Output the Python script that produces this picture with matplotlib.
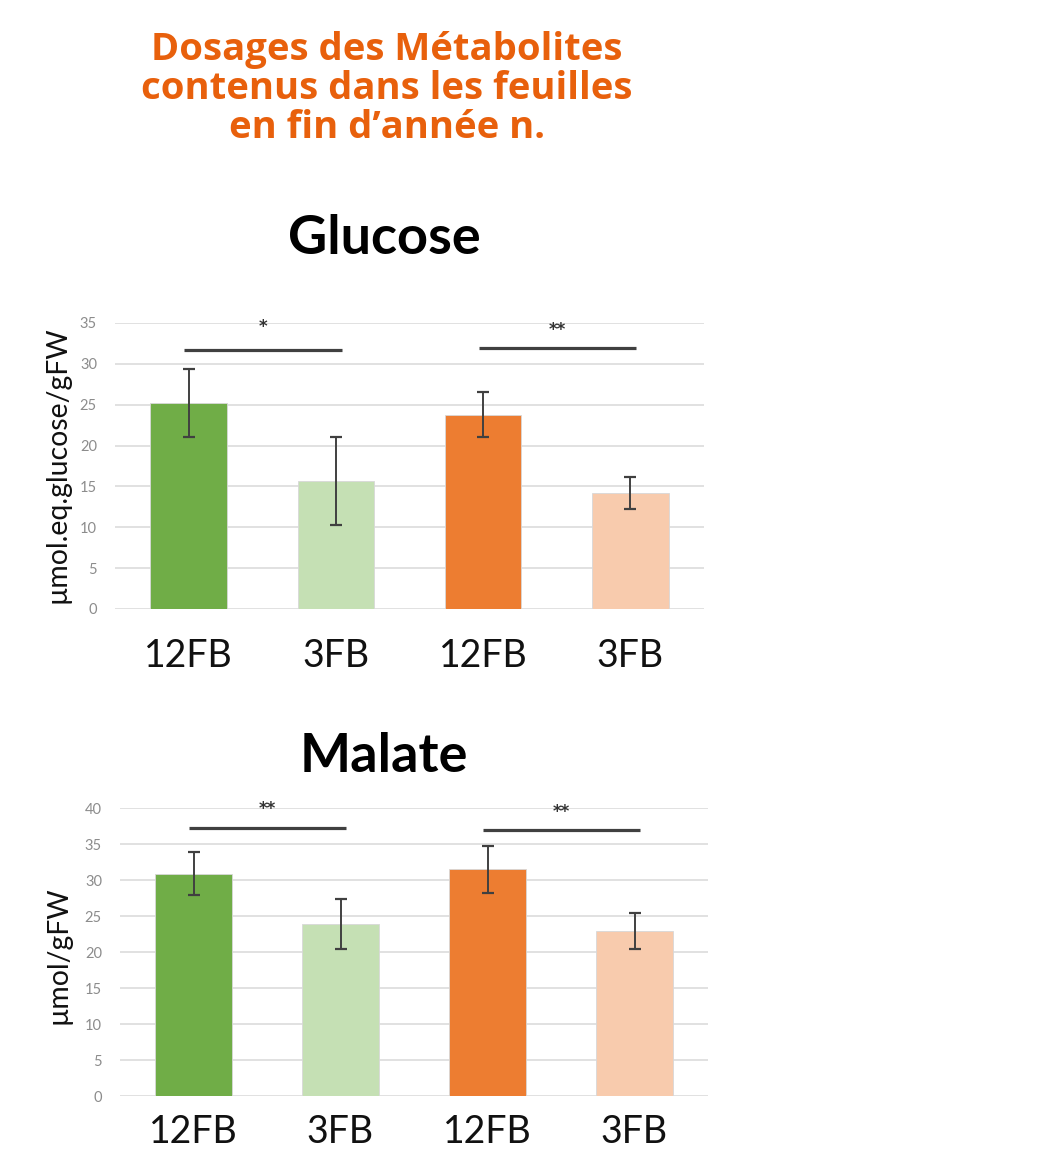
import matplotlib
matplotlib.use("Agg")
import matplotlib.pyplot as plt
import matplotlib.transforms as mtransforms

# ---------------- data ----------------
categories = ["12FB", "3FB", "12FB", "3FB"]
bar_colors = ["#70AD47", "#C5E0B4", "#ED7D31", "#F8CBAD"]

glucose_mean = [25.2, 15.7, 23.8, 14.2]
glucose_err = [4.2, 5.4, 2.7, 2.0]
glucose_ticks = [0, 5, 10, 15, 20, 25, 30, 35]
glucose_sig_pairs = [(0, 1), (2, 3)]
glucose_sig_labels = ["*", "**"]
glucose_sig_line_y = [31.7, 32.0]
glucose_sig_text_y = [34.5, 34.1]

malate_mean = [30.9, 23.9, 31.5, 22.9]
malate_err = [3.0, 3.45, 3.25, 2.55]
malate_ticks = [0, 5, 10, 15, 20, 25, 30, 35, 40]
malate_sig_pairs = [(0, 1), (2, 3)]
malate_sig_labels = ["**", "**"]
malate_sig_line_y = [37.2, 36.9]
malate_sig_text_y = [39.9, 39.4]

header = "Dosages des Métabolites\ncontenus dans les feuilles\nen fin d\u2019année n."

# ---------------- figure ----------------
W, H = 1042, 1151
fig = plt.figure(figsize=(W / 100, H / 100), dpi=100)
fig.patch.set_facecolor("white")

def fx(px):
    return px / W

def fy(py):
    return 1 - py / H

def draw_panel(rect, means, errs, ticks, pairs, labels, line_y, text_y, xpad):
    ax = fig.add_axes(rect)
    x = list(range(len(categories)))
    ax.bar(x, means, width=0.52, color=bar_colors, edgecolor="#D8D8D8",
           linewidth=0.6, zorder=3)
    ax.errorbar(x, means, yerr=errs, fmt="none", ecolor="#404040",
                elinewidth=1.4, capsize=4.5, capthick=1.6, zorder=4)
    for (i, j), lab, ly, ty in zip(pairs, labels, line_y, text_y):
        ax.plot([i - 0.03, j + 0.04], [ly, ly], color="#404040", lw=2.3,
                solid_capstyle="butt", zorder=4, clip_on=False)
        ax.text((i + j) / 2 + 0.005, ty, lab, ha="center", va="center",
                fontsize=12, fontweight="bold", color="#333333",
                family="DejaVu Sans", zorder=5)
    ax.set_xlim(-0.5, 3.5)
    ax.set_ylim(ticks[0], ticks[-1])
    ax.set_yticks(ticks)
    ax.set_yticklabels([str(t) for t in ticks], fontsize=10.5, color="#8C8C8C",
                       family="Lato")
    ax.set_xticks(x)
    ax.set_xticklabels(categories, fontsize=27, color="#111111", family="Lato")
    offset = mtransforms.ScaledTranslation(-7 / 100, 0, fig.dpi_scale_trans)
    for lbl in ax.get_xticklabels():
        lbl.set_transform(lbl.get_transform() + offset)
    ax.tick_params(axis="both", length=0)
    ax.tick_params(axis="y", pad=13)
    ax.tick_params(axis="x", pad=xpad)
    ax.grid(axis="y", color="#D9D9D9", linewidth=1.1, zorder=0)
    ax.set_axisbelow(True)
    for s in ax.spines.values():
        s.set_visible(False)
    return ax

# Glucose panel
draw_panel([fx(115), fy(609), fx(704) - fx(115), fy(323) - fy(609)],
           glucose_mean, glucose_err, glucose_ticks, glucose_sig_pairs,
           glucose_sig_labels, glucose_sig_line_y, glucose_sig_text_y, 21)

# Malate panel
draw_panel([fx(120), fy(1096), fx(708) - fx(120), fy(808) - fy(1096)],
           malate_mean, malate_err, malate_ticks, malate_sig_pairs,
           malate_sig_labels, malate_sig_line_y, malate_sig_text_y, 13)

# Titles
fig.text(fx(384), fy(238), "Glucose", ha="center", va="center",
         fontsize=39, fontweight="bold", family="Lato", color="#000000")
fig.text(fx(384), fy(757), "Malate", ha="center", va="center",
         fontsize=39, fontweight="bold", family="Lato", color="#000000")

# Y labels
fig.text(fx(58), fy(465), "µmol.eq.glucose/gFW", ha="center", va="center",
         rotation=90, fontsize=20.4, family="Lato", color="#111111")
fig.text(fx(58), fy(955), "µmol/gFW", ha="center", va="center",
         rotation=90, fontsize=20.4, family="Lato", color="#111111")

# Header
fig.text(fx(387), fy(89), header, ha="center", va="center", fontsize=27.5,
         fontweight="bold", family="Open Sans", color="#E8600C",
         linespacing=1.05)

fig.savefig("out.png", dpi=100, facecolor="white")
